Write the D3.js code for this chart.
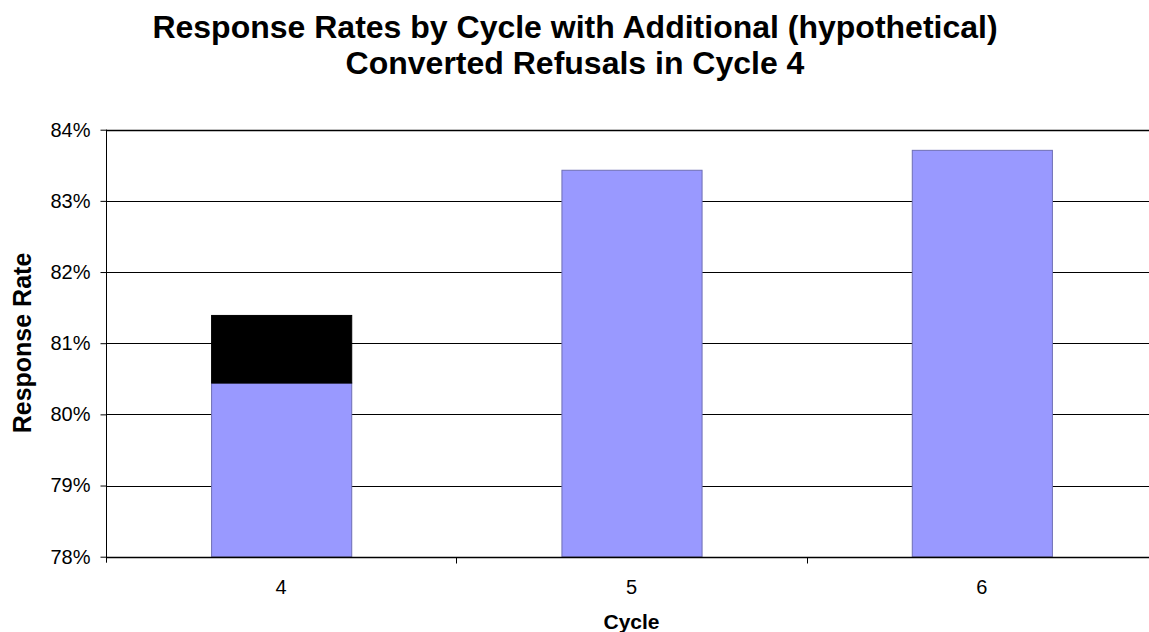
<!DOCTYPE html>
<html><head><meta charset="utf-8">
<script src="https://cdn.jsdelivr.net/npm/d3@7"></script>
<style>body{margin:0;background:#fff}svg{display:block;font-family:Arial,"Liberation Sans",sans-serif}</style>
</head><body><svg id="c" width="1149" height="632"></svg>
<script>
const cycles = ["4", "5", "6"];
const baseRates = [80.44, 83.43, 83.71];
const addedRates = [0.95, 0, 0];
const yTicks = [78, 79, 80, 81, 82, 83, 84];
const titleLines = ["Response Rates by Cycle with Additional (hypothetical)", "Converted Refusals in Cycle 4"];

const svg = d3.select("#c");
const m = {left: 106, right: 1157, top: 129.7, bottom: 556.7};
const x = d3.scaleBand().domain(cycles).range([m.left, m.right]).paddingInner(0.6).paddingOuter(0.3);
const y = d3.scaleLinear().domain([78, 84]).range([m.bottom, m.top]);

// gridlines
svg.append("g").selectAll("line").data(yTicks.slice(1)).join("line")
  .attr("x1", m.left).attr("x2", m.right)
  .attr("y1", d => Math.round(y(d)) + 0.5).attr("y2", d => Math.round(y(d)) + 0.5)
  .attr("stroke", "#000").attr("stroke-width", d => d === 84 ? 1.6 : 1);

// bars
const rows = cycles.map((c, i) => ({c, base: baseRates[i], add: addedRates[i]}));
const stack = d3.stack().keys(["base", "add"])(rows);
const colors = {base: "#9999FF", add: "#000000"};
const strokes = {base: "#6E6EB4", add: "#000000"};
svg.append("g").selectAll("g").data(stack).join("g")
  .attr("fill", d => colors[d.key]).attr("stroke", d => strokes[d.key])
  .selectAll("rect").data(d => d.filter(p => p[1] > p[0])).join("rect")
  .attr("x", d => x(d.data.c) + 0.5)
  .attr("width", x.bandwidth())
  .attr("y", d => y(d[1]))
  .attr("height", d => y(Math.max(d[0], 78)) - y(d[1]));

// axes
const yAxis = svg.append("g").attr("transform", `translate(${m.left + 0.5},0)`)
  .call(d3.axisLeft(y).tickValues(yTicks).tickSize(6).tickPadding(10).tickFormat(d => d + "%"));
yAxis.select(".domain").attr("d", `M0,${m.top}V${m.bottom + 6}`).attr("stroke", "#000");
yAxis.selectAll("text").attr("font-size", 20).attr("fill", "#000").attr("font-family", "Arial, 'Liberation Sans', sans-serif");

const xAxisG = svg.append("g").attr("transform", `translate(0,${Math.round(m.bottom) + 0.5})`);
xAxisG.append("line").attr("x1", m.left).attr("x2", m.right).attr("stroke", "#000").attr("stroke-width", 1.5);
const boundaries = cycles.slice(1).map(c => x(c) - x.step() * x.paddingInner() / 2);
xAxisG.selectAll(".tk").data(boundaries).join("line").attr("class", "tk")
  .attr("x1", d => Math.round(d) + 0.5).attr("x2", d => Math.round(d) + 0.5).attr("y1", 0).attr("y2", 6).attr("stroke", "#000");
xAxisG.selectAll(".lb").data(cycles).join("text").attr("class", "lb")
  .attr("x", d => x(d) + x.bandwidth() / 2).attr("y", 36).attr("text-anchor", "middle")
  .attr("font-size", 20).text(d => d);

// axis titles
svg.append("text").attr("x", (m.left + m.right) / 2).attr("y", 629).attr("text-anchor", "middle")
  .attr("font-size", 21).attr("font-weight", "bold").text("Cycle");
svg.append("text").attr("transform", "translate(31,343) rotate(-90)").attr("text-anchor", "middle")
  .attr("font-size", 25).attr("font-weight", "bold").text("Response Rate");

// title
svg.append("g").selectAll("text").data(titleLines).join("text")
  .attr("x", 575).attr("y", (d, i) => 38 + i * 36).attr("text-anchor", "middle")
  .attr("font-size", 32).attr("font-weight", "bold").text(d => d);
</script></body></html>
